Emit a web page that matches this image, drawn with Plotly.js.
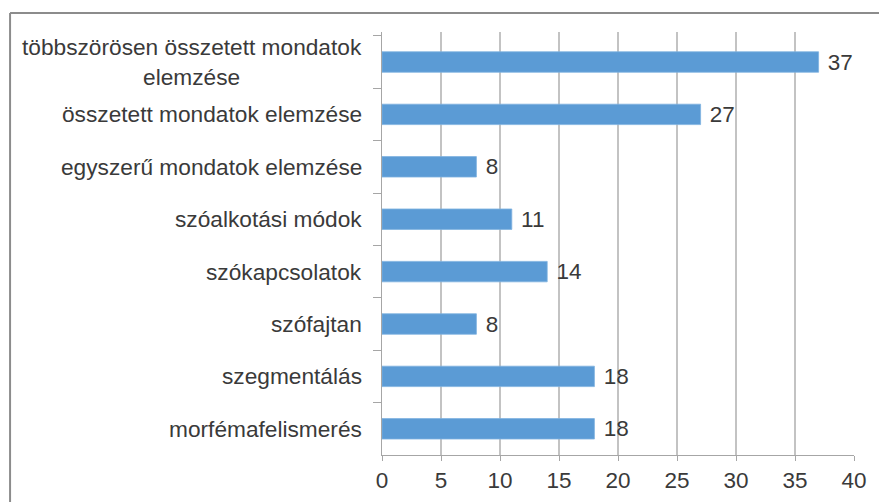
<!DOCTYPE html>
<html>
<head>
<meta charset="utf-8">
<script src="https://cdn.plot.ly/plotly-3.0.1.min.js"></script>
<style>html,body{margin:0;padding:0;background:#fff;}#chart{width:879px;height:502px;}</style>
</head>
<body>
<div id="chart"></div>
<script>
// Categories from top to bottom
const categories = [
  "többszörösen összetett mondatok<br>elemzése",
  "összetett mondatok elemzése",
  "egyszerű mondatok elemzése",
  "szóalkotási módok",
  "szókapcsolatok",
  "szófajtan",
  "szegmentálás",
  "morfémafelismerés"
];
const values = [37, 27, 8, 11, 14, 8, 18, 18];
const xTicks = [0, 5, 10, 15, 20, 25, 30, 35, 40];

const textColor = "#3a3a3a";
const fontFamily = "'Liberation Sans', Arial, sans-serif";

const trace = {
  type: "bar",
  orientation: "h",
  y: categories,
  x: values,
  marker: {color: "#5b9bd5", line: {color: "#7fb2e0", width: 0.8}},
  text: values.map(v => "\u00a0" + v),
  textposition: "outside",
  constraintext: "none",
  cliponaxis: false,
  textfont: {family: fontFamily, size: 22.5, color: textColor},
  hoverinfo: "none",
  width: 0.39
};

const annotations = categories.map(c => ({
  xref: "paper", yref: "y",
  x: 0, y: c,
  text: c,
  showarrow: false,
  xanchor: "right",
  yanchor: "middle",
  align: "center",
  xshift: -18,
  font: {family: fontFamily, size: 22.7, color: textColor}
}));

const layout = {
  width: 879, height: 502,
  margin: {l: 382, r: 25, t: 32, b: 47},
  paper_bgcolor: "#ffffff",
  plot_bgcolor: "#ffffff",
  showlegend: false,
  font: {family: fontFamily, size: 22.5, color: textColor},
  xaxis: {
    range: [0, 40],
    tickvals: xTicks,
    ticktext: xTicks.map(String),
    showgrid: true,
    gridcolor: "#c3c3c3",
    gridwidth: 1.3,
    zeroline: false,
    showline: true,
    linecolor: "#a6a6a6",
    linewidth: 1.3,
    ticks: "outside",
    ticklen: 5,
    tickcolor: "#a6a6a6",
    tickfont: {family: fontFamily, size: 22.5, color: textColor},
    fixedrange: true
  },
  yaxis: {
    type: "category",
    autorange: "reversed",
    showticklabels: false,
    showgrid: false,
    zeroline: false,
    showline: true,
    linecolor: "#a6a6a6",
    linewidth: 1.3,
    ticks: "outside",
    tickson: "boundaries",
    ticklen: 8,
    tickcolor: "#a6a6a6",
    fixedrange: true
  },
  annotations: annotations,
  shapes: [
    {type: "line", xref: "paper", yref: "paper", x0: -0.788, x1: -0.788, y0: -0.3, y1: 1.045,
     line: {color: "#8c8c8c", width: 2}},
    {type: "line", xref: "paper", yref: "paper", x0: -0.788, x1: 1.2, y0: 1.045, y1: 1.045,
     line: {color: "#8c8c8c", width: 2}}
  ]
};

Plotly.newPlot("chart", [trace], layout, {displayModeBar: false, staticPlot: true});
</script>
</body>
</html>
